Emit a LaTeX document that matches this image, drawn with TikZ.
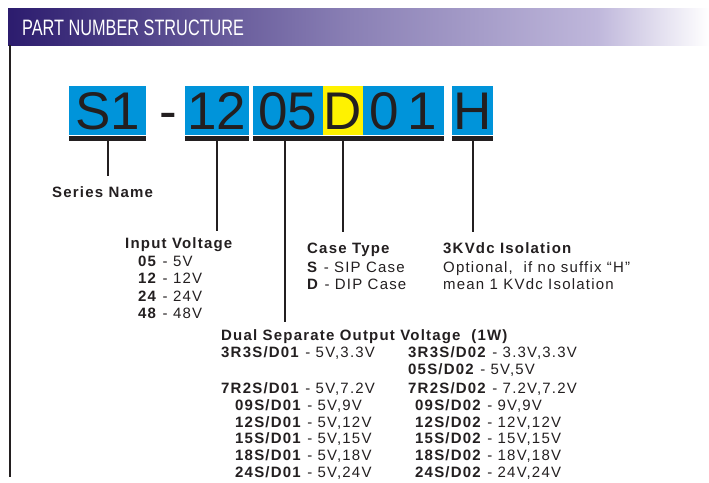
\documentclass[tikz,border=0pt]{standalone}
\usepackage{fontspec}
\setmainfont{Liberation Sans}
\newfontfamily\titlefont{Liberation Sans}[FakeStretch=0.73]
\newfontfamily\lblfont{Liberation Sans}[LetterSpace=8]
\definecolor{partblue}{RGB}{0,148,218}
\definecolor{partyellow}{RGB}{255,242,0}
\definecolor{ink}{RGB}{35,31,32}
\definecolor{barA}{RGB}{44,28,110}
\definecolor{barB}{RGB}{138,128,181}
\definecolor{barC}{RGB}{191,183,219}
\pgfdeclarehorizontalshading{titlebar}{100bp}{color(0bp)=(barA); color(25bp)=(barA); color(49.5bp)=(barB); color(67bp)=(barC); color(75bp)=(white); color(100bp)=(white)}
\tikzstyle{digit}=[fill=partblue,text=ink,inner sep=0pt,minimum height=49pt,text height=38pt,text depth=0pt,font=\fontsize{53}{53}\selectfont]
\tikzstyle{bar}=[ink,line width=5pt]
\tikzstyle{lead}=[ink,line width=2pt]
\tikzstyle{lbl}=[anchor=base west,inner sep=0pt,text=ink,font=\lblfont\fontsize{15}{18}\selectfont]
\tikzstyle{hdr}=[lbl,font=\lblfont\bfseries\fontsize{15}{18}\selectfont]

\begin{document}
\begin{tikzpicture}[x=1pt,y=-1pt]
\useasboundingbox (0,0) rectangle (709,482);
\shade[shading=titlebar] (8,8) rectangle (709,45);
\node[anchor=base west,inner sep=0pt,text=white,font=\titlefont\fontsize{22.3}{26}\selectfont] (head) at (22,35) {PART NUMBER STRUCTURE};
\draw[ink,line width=1.2pt] (10,45) -- (10,477);

\node[digit,minimum width=77pt] (s1) at (107.5,110.5) {S1};
\node[text=ink,inner sep=0pt,anchor=base,font=\fontsize{53}{53}\selectfont] (dash) at (168.5,129.5) {-};
\node[digit,minimum width=64pt] (in12) at (217,110.5) {12};
\node[digit,minimum width=70pt] (out05) at (288,110.5) {05};
\node[digit,fill=partyellow,minimum width=40pt] (caseD) at (343,110.5) {D};
\node[digit,minimum width=81pt] (n01) at (403.5,110.5) {0\kern9pt1};
\node[digit,minimum width=41pt] (isoH) at (472.5,110.5) {H};

\draw[bar] ([yshift=-3pt]s1.south west) -- ([yshift=-3pt]s1.south east);
\draw[bar] ([yshift=-3pt]in12.south west) -- ([yshift=-3pt]in12.south east);
\draw[bar] ([yshift=-3pt]out05.south west) -- ([yshift=-3pt]n01.south east);
\draw[bar] ([yshift=-3pt]isoH.south west) -- ([yshift=-3pt]isoH.south east);

\node[hdr] (series) at (52,197) {Series Name};

\node[hdr] (inV) at (125,248) {Input Voltage};
\node[lbl] (in05) at (138,266) {\textbf{05} - 5V};
\node[lbl] (in12v) at (138,283) {\textbf{12} - 12V};
\node[lbl] (in24) at (138,301) {\textbf{24} - 24V};
\node[lbl] (in48) at (138,318) {\textbf{48} - 48V};

\node[hdr] (caseT) at (307,253) {Case Type};
\node[lbl] (caseS) at (307,272) {\textbf{S} - SIP Case};
\node[lbl] (caseDip) at (307,289) {\textbf{D} - DIP Case};

\node[hdr] (isoT) at (443,253) {3KVdc Isolation};
\node[lbl] (isoA) at (443,272) {Optional,\ \ if no suffix “H”};
\node[lbl] (isoB) at (443,289) {mean 1 KVdc Isolation};

\node[hdr] (outT) at (221,340) {Dual Separate Output Voltage\ \ (1W)};
\node[lbl] (l3r3) at (221,357) {\textbf{3R3S/D01} - 5V,3.3V}; \node[lbl] (r3r3) at (408,357) {\textbf{3R3S/D02} - 3.3V,3.3V};
\node[lbl] (r05) at (408,374) {\textbf{05S/D02} - 5V,5V};
\node[lbl] (l7r2) at (221,393) {\textbf{7R2S/D01} - 5V,7.2V}; \node[lbl] (r7r2) at (408,393) {\textbf{7R2S/D02} - 7.2V,7.2V};
\node[lbl] (l09) at (235,410) {\textbf{09S/D01} - 5V,9V}; \node[lbl] (r09) at (415,410) {\textbf{09S/D02} - 9V,9V};
\node[lbl] (l12) at (235,427) {\textbf{12S/D01} - 5V,12V}; \node[lbl] (r12) at (415,427) {\textbf{12S/D02} - 12V,12V};
\node[lbl] (l15) at (235,443) {\textbf{15S/D01} - 5V,15V}; \node[lbl] (r15) at (415,443) {\textbf{15S/D02} - 15V,15V};
\node[lbl] (l18) at (235,460) {\textbf{18S/D01} - 5V,18V}; \node[lbl] (r18) at (415,460) {\textbf{18S/D02} - 18V,18V};
\node[lbl] (l24) at (235,477) {\textbf{24S/D01} - 5V,24V}; \node[lbl] (r24) at (415,477) {\textbf{24S/D02} - 24V,24V};

\draw[lead] ([yshift=-5pt]s1.south) -- ([yshift=10pt]s1.south |- series.north);
\draw[lead] ([yshift=-5pt]in12.south) -- ([yshift=6pt]in12.south |- inV.north);
\draw[lead] ([xshift=-3pt,yshift=-5pt]out05.south) -- ([xshift=-3pt,yshift=7pt]out05.south |- outT.north);
\draw[lead] ([yshift=-5pt]caseD.south) -- ([yshift=10pt]caseD.south |- caseT.north);
\draw[lead] ([yshift=-5pt]isoH.south) -- ([yshift=10pt]isoH.south |- isoT.north);
\end{tikzpicture}
\end{document}
